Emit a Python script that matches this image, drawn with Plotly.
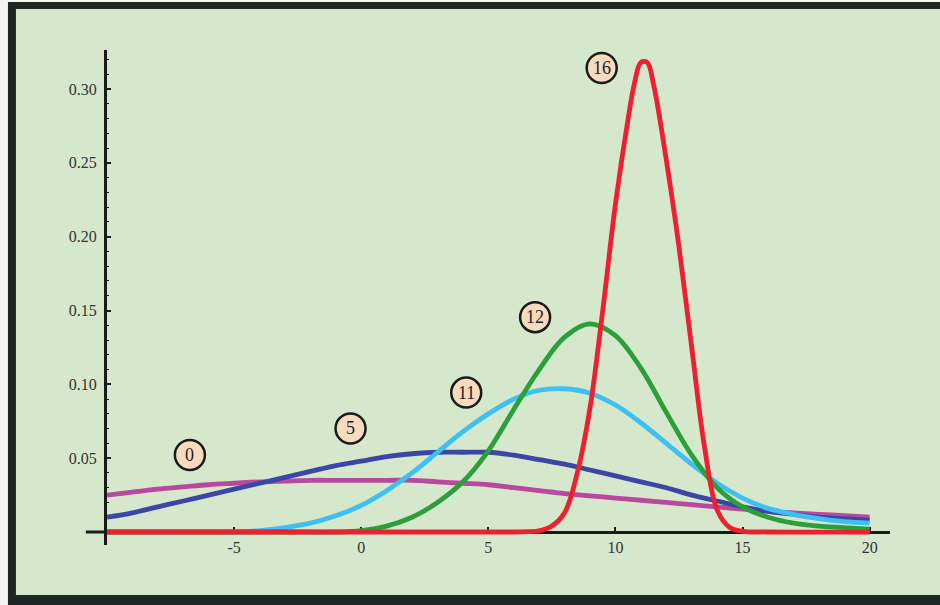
import plotly.graph_objects as go

# ---------------- data ----------------
x_grid = [-10, -9, -8, -7, -6, -5, -4, -3, -2, -1, 0, 1, 2, 3, 4, 5, 6, 7, 8, 9,
          10, 11, 12, 13, 14, 15, 16, 17, 18, 19, 20]

y_step0 = [0.025, 0.027, 0.029, 0.0305, 0.032, 0.033, 0.034, 0.0345, 0.035, 0.035, 0.035,
           0.035, 0.035, 0.034, 0.033, 0.032, 0.030, 0.028, 0.026, 0.0245, 0.023,
           0.0215, 0.020, 0.0185, 0.017, 0.0155, 0.014, 0.013, 0.012, 0.011, 0.010]

y_step5 = [0.010, 0.013, 0.017, 0.021, 0.025, 0.029, 0.033, 0.037, 0.041, 0.045, 0.048,
           0.051, 0.053, 0.054, 0.054, 0.054, 0.052, 0.049, 0.046, 0.042, 0.038,
           0.034, 0.030, 0.025, 0.021, 0.017, 0.014, 0.012, 0.010, 0.009, 0.008]

y_step11 = [0.0, 0.0, 0.0, 0.0, 0.0, 0.0, 0.001, 0.003, 0.006, 0.011, 0.018,
            0.028, 0.040, 0.054, 0.068, 0.080, 0.090, 0.096, 0.097, 0.094, 0.086,
            0.074, 0.060, 0.046, 0.033, 0.023, 0.016, 0.012, 0.009, 0.007, 0.006]

y_step12 = [0.0, 0.0, 0.0, 0.0, 0.0, 0.0, 0.0, 0.0, 0.0, 0.0, 0.001,
            0.004, 0.010, 0.020, 0.034, 0.055, 0.083, 0.110, 0.132, 0.141, 0.133,
            0.111, 0.081, 0.052, 0.030, 0.017, 0.010, 0.006, 0.004, 0.003, 0.002]

x_step16 = [-10, 0, 5, 6, 6.5, 7, 7.5, 8, 8.5, 9, 9.5, 10, 10.5, 10.75, 11, 11.25, 11.5,
            12, 12.5, 13, 13.5, 14, 14.5, 15, 16, 20]
y_step16 = [0.0, 0.0, 0.0, 0.0, 0.0002, 0.0008, 0.004, 0.013, 0.040, 0.084, 0.150,
            0.222, 0.280, 0.304, 0.318, 0.318, 0.303, 0.252, 0.193, 0.125, 0.058, 0.015,
            0.003, 0.0005, 0.0, 0.0]

series_names = ["0", "5", "11", "12", "16"]
series_colors = ["#b9489f", "#3b46a6", "#3fc0f2", "#2ba03a", "#ee1f2e"]

label_x = [-6.74, -0.42, 4.13, 6.84, 9.46]
label_y = [0.0522, 0.0701, 0.0944, 0.1455, 0.3142]

x_ticks = [-5, 0, 5, 10, 15, 20]
x_ticktext = ["-5", "0", "5", "10", "15", "20"]
y_ticks = [0.05, 0.10, 0.15, 0.20, 0.25, 0.30]
y_ticktext = ["0.05", "0.10", "0.15", "0.20", "0.25", "0.30"]

# ---------------- figure ----------------
X_RANGE = [-10, 20.8]
Y_RANGE = [-0.0088, 0.3264]
BG = "#d5e8cb"
FRAME = "#1d2621"
SERIF = "Liberation Serif, Times New Roman, serif"

fig = go.Figure()

xs = [x_grid, x_grid, x_grid, x_grid, x_step16]
ys = [y_step0, y_step5, y_step11, y_step12, y_step16]
for name, xv, yv, col in zip(series_names, xs, ys, series_colors):
    fig.add_trace(go.Scatter(
        x=xv, y=yv, mode="lines", name=name,
        line=dict(color=col, width=4.8, shape="spline", smoothing=1.0),
        hoverinfo="skip", showlegend=False))

shapes = []
# outer frame (dark) and inner green panel, in paper coords
shapes.append(dict(type="rect", xref="paper", yref="paper", layer="below",
                   x0=-0.1265, x1=1.08, y0=-0.14, y1=1.097,
                   fillcolor=FRAME, line=dict(width=0)))
shapes.append(dict(type="rect", xref="paper", yref="paper", layer="below",
                   x0=-0.1163, x1=1.08, y0=-0.101, y1=1.083,
                   fillcolor=BG, line=dict(width=0)))

# x-axis extension to the left of the y axis (domain-referenced, unclipped)
y0_dom = (0 - Y_RANGE[0]) / (Y_RANGE[1] - Y_RANGE[0])
shapes.append(dict(type="line", xref="x domain", yref="y domain", layer="below",
                   x0=-0.027, x1=0.0, y0=y0_dom, y1=y0_dom,
                   line=dict(color="#1a1a1a", width=3)))

# label badges
for lx, ly in zip(label_x, label_y):
    shapes.append(dict(type="circle", xref="x", yref="y",
                       xsizemode="pixel", ysizemode="pixel",
                       xanchor=lx, yanchor=ly, x0=-15, x1=15, y0=-15, y1=15,
                       fillcolor="#f8dbbf", line=dict(color="#1a1a1a", width=2.5),
                       layer="above"))

annotations = []
for name, lx, ly in zip(series_names, label_x, label_y):
    annotations.append(dict(x=lx, y=ly, xref="x", yref="y", text=name,
                            showarrow=False, xanchor="center", yanchor="middle",
                            font=dict(family=SERIF, size=18, color="#222222")))

fig.update_layout(
    width=940, height=605,
    margin=dict(l=107, r=50, t=50, b=60),
    paper_bgcolor="#f2f2f2",
    plot_bgcolor="rgba(0,0,0,0)",
    shapes=shapes,
    annotations=annotations,
    showlegend=False,
)

fig.update_xaxes(
    range=X_RANGE, anchor="free", position=y0_dom,
    showline=True, linecolor="#1a1a1a", linewidth=3,
    showgrid=False, zeroline=False, layer="below traces",
    tickmode="array", tickvals=x_ticks, ticktext=x_ticktext,
    ticks="inside", ticklen=4, tickwidth=2, tickcolor="#1a1a1a",
    tickfont=dict(family=SERIF, size=16, color="#333333"),
)
fig.update_yaxes(
    range=Y_RANGE,
    showline=True, linecolor="#1a1a1a", linewidth=3,
    showgrid=False, zeroline=False, layer="below traces",
    tickmode="array", tickvals=y_ticks, ticktext=y_ticktext,
    ticks="inside", ticklen=4, tickwidth=2, tickcolor="#1a1a1a",
    ticklabelstandoff=4,
    minor=dict(ticks="inside", ticklen=2, tickwidth=1, tickcolor="#1a1a1a", dtick=0.01,
               tick0=0),
    tickfont=dict(family=SERIF, size=16, color="#333333"),
)

fig.write_html("out.html")
